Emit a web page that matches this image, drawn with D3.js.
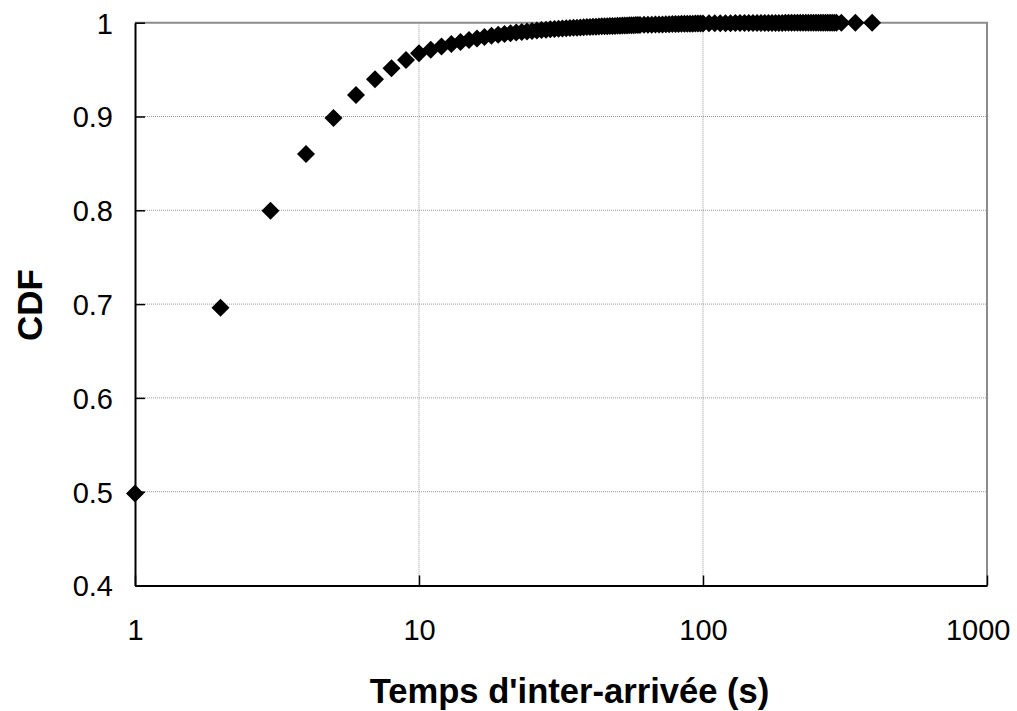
<!DOCTYPE html>
<html>
<head>
<meta charset="utf-8">
<script src="https://cdn.jsdelivr.net/npm/d3@7"></script>
<style>
  html, body { margin: 0; padding: 0; background: #fff; }
  svg { display: block; }
  text { font-family: Arial, "Liberation Sans", sans-serif; fill: #000; }
</style>
</head>
<body>
<svg id="chart" width="1017" height="711"></svg>
<script>
// ---- data ----
const interArrival = [
  1, 2, 3, 4, 5, 6, 7, 8, 9, 10,
  11, 12, 13, 14, 15, 16, 17, 18, 19, 20,
  21, 22, 23, 24, 25, 26, 27, 28, 29, 30,
  31, 32, 33, 34, 35, 36, 37, 38, 39, 40,
  41, 42, 43, 44, 45, 46, 47, 48, 49, 50,
  51, 52, 53, 54, 55, 56, 57, 58, 59, 60,
  62, 64, 66, 68, 70, 72, 74, 76, 78, 80,
  82, 84, 86, 88, 90, 92, 94, 96, 98, 100,
  105, 110, 115, 120, 125, 130, 135, 140, 145, 150,
  155, 160, 165, 170, 175, 180, 185, 190, 195, 200,
  205, 210, 215, 220, 225, 230, 235, 240, 245, 250,
  255, 260, 265, 270, 275, 280, 285, 290, 295,
  307, 344, 394
];
const cdfValues = [
  0.498, 0.696, 0.7996, 0.860, 0.8984, 0.923, 0.9397, 0.9514, 0.9602, 0.9674,
  0.9712, 0.9745, 0.9772, 0.9795, 0.9815, 0.9832, 0.9847, 0.9860, 0.9871, 0.9880,
  0.9888, 0.9895, 0.9901, 0.9907, 0.9912, 0.9917, 0.9921, 0.9925, 0.9929, 0.9932,
  0.9935, 0.9938, 0.9941, 0.9943, 0.9945, 0.9947, 0.9949, 0.9951, 0.9953, 0.9955,
  0.9957, 0.9958, 0.9960, 0.9961, 0.9962, 0.9963, 0.9964, 0.9965, 0.9966, 0.9967,
  0.9968, 0.9969, 0.9970, 0.9971, 0.9972, 0.9973, 0.9974, 0.9975, 0.9975, 0.9976,
  0.9977, 0.9978, 0.9979, 0.9980, 0.9981, 0.9982, 0.9983, 0.9984, 0.9985, 0.9986,
  0.9987, 0.9988, 0.9988, 0.9989, 0.9990, 0.9990, 0.9991, 0.9991, 0.9992, 0.9992,
  0.9993, 0.9994, 0.9994, 0.9995, 0.9995, 0.9996, 0.9996, 0.9996, 0.9997, 0.9997,
  0.9997, 0.9997, 0.9998, 0.9998, 0.9998, 0.9998, 0.9998, 0.9998, 0.9999, 0.9999,
  0.9999, 0.9999, 0.9999, 0.9999, 0.9999, 0.9999, 0.9999, 0.9999, 0.9999, 0.9999,
  0.9999, 0.9999, 0.9999, 0.9999, 0.9999, 0.9999, 0.9999, 0.9999, 0.9999,
  0.99995, 0.99998, 1.0
];
const xTickValues = [1, 10, 100, 1000];
const xTickLabels = ["1", "10", "100", "1000"];
const yTickValues = [0.4, 0.5, 0.6, 0.7, 0.8, 0.9, 1.0];
const yTickLabels = ["0.4", "0.5", "0.6", "0.7", "0.8", "0.9", "1"];
const xTitle = "Temps d'inter-arrivée (s)";
const yTitle = "CDF";

// ---- layout ----
const W = 1017, H = 711;
const plot = { left: 135, right: 987, top: 22.7, bottom: 585.5 };

const svg = d3.select("#chart");
svg.append("rect").attr("width", W).attr("height", H).attr("fill", "#fff");

const x = d3.scaleLog().domain([1, 1000]).range([plot.left, plot.right]);
const y = d3.scaleLinear().domain([0.4, 1.0]).range([plot.bottom, plot.top]);

// gridlines
const grid = svg.append("g").attr("class", "grid");
grid.selectAll("line.h")
  .data(yTickValues.filter(v => v > 0.4 && v < 1))
  .join("line")
  .attr("x1", plot.left).attr("x2", plot.right)
  .attr("y1", d => y(d)).attr("y2", d => y(d))
  .attr("stroke", "#9a9a9a").attr("stroke-width", 1)
  .attr("stroke-dasharray", "1,1");
grid.selectAll("line.v")
  .data(xTickValues.filter(v => v > 1 && v < 1000))
  .join("line")
  .attr("y1", plot.top).attr("y2", plot.bottom)
  .attr("x1", d => x(d)).attr("x2", d => x(d))
  .attr("stroke", "#9a9a9a").attr("stroke-width", 1)
  .attr("stroke-dasharray", "1,1");

// top & right border (grey)
svg.append("path")
  .attr("d", `M${plot.left},${plot.top}H${plot.right}V${plot.bottom}`)
  .attr("fill", "none").attr("stroke", "#8c8c8c").attr("stroke-width", 2);

// x axis
const xAxis = d3.axisBottom(x)
  .tickValues(xTickValues)
  .tickFormat((d, i) => xTickLabels[i])
  .tickSizeInner(-10).tickSizeOuter(0).tickPadding(34);
const gx = svg.append("g").attr("transform", `translate(0,${plot.bottom})`).call(xAxis);
gx.select(".domain").attr("stroke", "#000").attr("stroke-width", 2);
gx.selectAll(".tick line").attr("stroke", "#000").attr("stroke-width", 1.5);
gx.selectAll(".tick text")
  .attr("font-size", 29).attr("font-family", "Arial, 'Liberation Sans', sans-serif")
  .attr("fill", "#000");
// last label kept inside the picture, as in the reference
gx.selectAll(".tick text").filter(d => d === 1000)
  .attr("text-anchor", "end").attr("x", W - 7 - plot.right);

// y axis
const yAxis = d3.axisLeft(y)
  .tickValues(yTickValues)
  .tickFormat((d, i) => yTickLabels[i])
  .tickSizeInner(-10).tickSizeOuter(0).tickPadding(22);
const gy = svg.append("g").attr("transform", `translate(${plot.left},0)`).call(yAxis);
gy.select(".domain").attr("stroke", "#000").attr("stroke-width", 2);
gy.selectAll(".tick line").attr("stroke", "#000").attr("stroke-width", 1.5);
gy.selectAll(".tick text")
  .attr("font-size", 29).attr("font-family", "Arial, 'Liberation Sans', sans-serif")
  .attr("fill", "#000").attr("dy", "0.36em");

// axis titles
svg.append("text")
  .attr("x", 569.5).attr("y", 703)
  .attr("text-anchor", "middle")
  .attr("font-size", 34.6).attr("font-weight", "bold")
  .text(xTitle);
svg.append("text")
  .attr("transform", `translate(42,305) rotate(-90)`)
  .attr("text-anchor", "middle")
  .attr("font-size", 35).attr("font-weight", "bold")
  .text(yTitle);

// diamond markers
const diamond = {
  draw(ctx, size) {
    const r = Math.sqrt(size / 2);
    ctx.moveTo(0, -r); ctx.lineTo(r, 0); ctx.lineTo(0, r); ctx.lineTo(-r, 0); ctx.closePath();
  }
};
const points = interArrival.map((v, i) => ({ t: v, p: cdfValues[i] }));
svg.append("g").selectAll("path")
  .data(points)
  .join("path")
  .attr("transform", d => `translate(${x(d.t)},${y(d.p)})`)
  .attr("d", d3.symbol().type(diamond).size(162))
  .attr("fill", "#000");
</script>
</body>
</html>
